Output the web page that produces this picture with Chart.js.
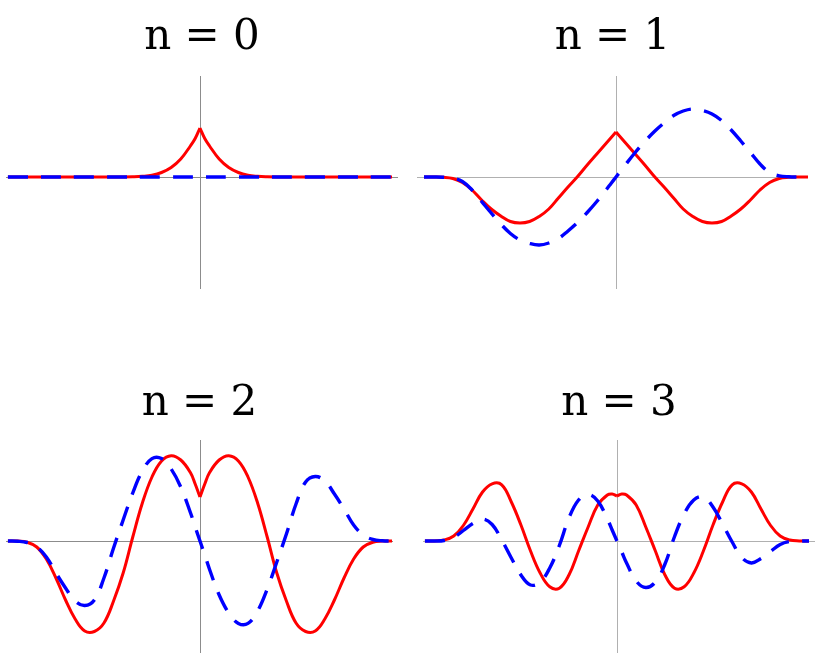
<!DOCTYPE html>
<html>
<head>
<meta charset="utf-8">
<script src="https://cdn.jsdelivr.net/npm/chart.js@4.4.1/dist/chart.umd.min.js"></script>
<style>
  body { margin: 0; background: #fff; }
  #wrap { position: relative; width: 820px; height: 656px; overflow: hidden; }
  #wrap canvas { position: absolute; }
</style>
</head>
<body>
<div id="wrap"></div>
<script>
// x positions shared by every panel (extra points around the cusp at 0)
var xs = [-4, -3.8, -3.6, -3.4, -3.2, -3, -2.8, -2.6, -2.4, -2.2, -2, -1.8, -1.6, -1.4, -1.2, -1, -0.8, -0.6, -0.4, -0.2,
          -0.1, 0, 0.1,
          0.2, 0.4, 0.6, 0.8, 1, 1.2, 1.4, 1.6, 1.8, 2, 2.2, 2.4, 2.6, 2.8, 3, 3.2, 3.4, 3.6, 3.8, 4];

var titles = ['n = 0', 'n = 1', 'n = 2', 'n = 3'];

// n = 0
var red0 = [0, 0, 0, 0, 0, 0, 0, 0, 0, 0, 0, 0, 0, 0.002, 0.007, 0.018, 0.045, 0.095, 0.18, 0.31,
            0.385, 0.49, 0.385,
            0.31, 0.18, 0.095, 0.045, 0.018, 0.007, 0.002, 0, 0, 0, 0, 0, 0, 0, 0, 0, 0, 0, 0, 0];
var blue0 = [0, 0, 0, 0, 0, 0, 0, 0, 0, 0, 0, 0, 0, 0, 0, 0, 0, 0, 0, 0,
             0, 0, 0,
             0, 0, 0, 0, 0, 0, 0, 0, 0, 0, 0, 0, 0, 0, 0, 0, 0, 0, 0, 0];

// n = 1
var red1 = [0, 0, -0.003, -0.015, -0.055, -0.13, -0.23, -0.32, -0.39, -0.445, -0.46, -0.445, -0.395, -0.32, -0.21, -0.10, 0.005, 0.12, 0.23, 0.34,
            0.395, 0.45, 0.395,
            0.34, 0.23, 0.12, 0.005, -0.10, -0.21, -0.32, -0.395, -0.445, -0.46, -0.445, -0.39, -0.32, -0.23, -0.13, -0.055, -0.015, -0.003, 0, 0];
var blue1 = [0, 0, -0.002, -0.012, -0.045, -0.13, -0.245, -0.36, -0.47, -0.565, -0.63, -0.665, -0.68, -0.66, -0.615, -0.54, -0.455, -0.355, -0.245, -0.125,
             -0.062, 0, 0.062,
             0.125, 0.245, 0.355, 0.455, 0.54, 0.615, 0.66, 0.68, 0.665, 0.63, 0.565, 0.47, 0.36, 0.245, 0.13, 0.045, 0.012, 0.002, 0, 0];

// n = 2
var red2 = [0, -0.001, -0.012, -0.06, -0.18, -0.37, -0.59, -0.78, -0.90, -0.905, -0.82, -0.60, -0.32, 0.04, 0.38, 0.64, 0.80, 0.853, 0.81, 0.685,
            0.57, 0.44, 0.57,
            0.685, 0.81, 0.853, 0.80, 0.64, 0.38, 0.04, -0.32, -0.60, -0.82, -0.905, -0.90, -0.78, -0.59, -0.37, -0.18, -0.06, -0.012, -0.001, 0];
var blue2 = [0, -0.002, -0.015, -0.06, -0.16, -0.32, -0.47, -0.60, -0.645, -0.59, -0.37, -0.07, 0.21, 0.48, 0.70, 0.824, 0.824, 0.72, 0.54, 0.285,
             0.14, 0, -0.14,
             -0.285, -0.54, -0.72, -0.824, -0.824, -0.70, -0.48, -0.21, 0.07, 0.37, 0.59, 0.645, 0.60, 0.47, 0.32, 0.16, 0.06, 0.015, 0.002, 0];

// n = 3
var red3 = [0, 0.001, 0.01, 0.05, 0.155, 0.32, 0.49, 0.572, 0.562, 0.39, 0.16, -0.10, -0.32, -0.458, -0.472, -0.34, -0.10, 0.14, 0.36, 0.46,
            0.47, 0.45, 0.47,
            0.46, 0.36, 0.14, -0.10, -0.34, -0.472, -0.458, -0.32, -0.10, 0.16, 0.39, 0.562, 0.572, 0.49, 0.32, 0.155, 0.05, 0.01, 0.001, 0];
var blue3 = [0, 0, 0.005, 0.035, 0.105, 0.175, 0.22, 0.165, 0.01, -0.17, -0.34, -0.44, -0.41, -0.27, -0.045, 0.23, 0.41, 0.465, 0.40, 0.22,
             0.11, 0, -0.11,
             -0.22, -0.40, -0.465, -0.41, -0.23, 0.045, 0.27, 0.41, 0.44, 0.34, 0.17, -0.01, -0.165, -0.22, -0.175, -0.105, -0.035, -0.005, 0, 0];

var reds = [red0, red1, red2, red3];
var blues = [blue0, blue1, blue2, blue3];

// layout of the four panels
var panels = [
    { left: 0,   top: 0,   width: 410, height: 300, pad: { left: 6,  right: 12, top: 0, bottom: 11 }, titlePad: { top: 13, bottom: 12.6 }, xMin: -4.04,  xMax: 4.125, axis: '#8c8c8c' },
    { left: 410, top: 0,   width: 410, height: 300, pad: { left: 7,  right: 12, top: 0, bottom: 11 }, titlePad: { top: 13, bottom: 12.6 }, xMin: -4.146, xMax: 4.0,   axis: '#b0b0b0' },
    { left: 0,   top: 364, width: 410, height: 292, pad: { left: 6,  right: 17, top: 0, bottom: 3 },  titlePad: { top: 15.3, bottom: 10.3 }, xMin: -4.04, xMax: 4.02, axis: '#8c8c8c' },
    { left: 410, top: 364, width: 410, height: 292, pad: { left: 13, right: 5,  top: 0, bottom: 3 },  titlePad: { top: 15.3, bottom: 10.3 }, xMin: -4.04, xMax: 4.125, axis: '#b0b0b0' }
];

// draws the two axes through the origin
var axisLines = {
    id: 'axisLines',
    beforeDatasetsDraw: function (chart, args, opts) {
        var ctx = chart.ctx, a = chart.chartArea;
        var x0 = Math.round(chart.scales.x.getPixelForValue(0)) + 0.5;
        var y0 = Math.round(chart.scales.y.getPixelForValue(0)) + 0.5;
        ctx.save();
        ctx.strokeStyle = opts.color;
        ctx.lineWidth = 1;
        ctx.beginPath();
        ctx.moveTo(a.left, y0);
        ctx.lineTo(a.right, y0);
        ctx.moveTo(x0, a.top);
        ctx.lineTo(x0, a.bottom);
        ctx.stroke();
        ctx.restore();
    }
};

function points(xv, yv) {
    return xv.map(function (x, i) { return { x: x, y: yv[i] }; });
}

var wrap = document.getElementById('wrap');

panels.forEach(function (p, k) {
    var canvas = document.createElement('canvas');
    canvas.width = p.width;
    canvas.height = p.height;
    canvas.style.left = p.left + 'px';
    canvas.style.top = p.top + 'px';
    wrap.appendChild(canvas);

    var red = reds[k], blue = blues[k];

    new Chart(canvas.getContext('2d'), {
        type: 'line',
        data: {
            datasets: [
                {   // dashed blue sits on top
                    data: points(xs, blue),
                    borderColor: '#0000ff',
                    borderWidth: 3.4,
                    borderDash: [20, 13],
                    tension: 0.4,
                    pointRadius: 0
                },
                {   // red, left half up to the cusp
                    data: points(xs.slice(0, 22), red.slice(0, 22)),
                    borderColor: '#ff0000',
                    borderWidth: 3,
                    borderJoinStyle: 'round',
                    tension: 0.4,
                    pointRadius: 0
                },
                {   // red, right half from the cusp
                    data: points(xs.slice(21), red.slice(21)),
                    borderColor: '#ff0000',
                    borderWidth: 3,
                    borderJoinStyle: 'round',
                    tension: 0.4,
                    pointRadius: 0
                }
            ]
        },
        options: {
            responsive: false,
            animation: false,
            devicePixelRatio: 1,
            events: [],
            layout: { padding: p.pad },
            scales: {
                x: { type: 'linear', display: false, min: p.xMin, max: p.xMax },
                y: { type: 'linear', display: false, min: -1.12, max: 1.01 }
            },
            plugins: {
                legend: { display: false },
                tooltip: { enabled: false },
                title: {
                    display: true,
                    text: titles[k],
                    color: '#000',
                    font: { family: 'DejaVu Serif', size: 42, weight: 'normal' },
                    padding: p.titlePad
                },
                axisLines: { color: p.axis }
            }
        },
        plugins: [axisLines]
    });
});
</script>
</body>
</html>
